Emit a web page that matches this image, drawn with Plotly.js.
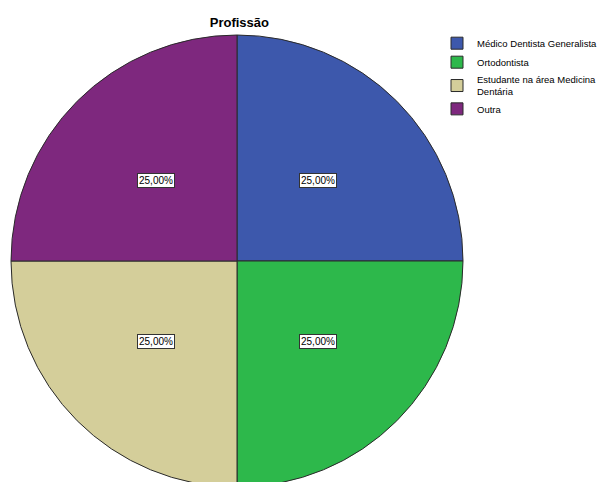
<!DOCTYPE html>
<html><head><meta charset="utf-8">
<script src="https://cdn.plot.ly/plotly-3.0.1.min.js"></script>
<style>html,body{margin:0;padding:0;overflow:hidden;background:#fff;width:606px;height:482px}</style>
</head><body><div id="chart" style="width:606px;height:490px"></div>
<script>
const categories = ["Médico Dentista Generalista", "Ortodontista", "Estudante na área Medicina<br>Dentária", "Outra"];
const values = [25, 25, 25, 25];
const colors = ["#3D58AC", "#2DB84B", "#D4CE9A", "#7E287E"];
const chartTitle = "Profissão";

const total = values.reduce((a, b) => a + b, 0);
const fmt = v => (v / total * 100).toFixed(2).replace('.', ',') + '%';

const W = 606, H = 490, m = {l: 11, r: 143, t: 35, b: 3, autoexpand: false};
let cum = 0;
const annotations = values.map(v => {
  const mid = (cum + v / 2) / total * 2 * Math.PI;
  cum += v;
  const rr = 0.253;
  return {
    xref: 'paper', yref: 'paper',
    x: 0.5 + rr * Math.sin(mid),
    y: 0.5 + rr * Math.cos(mid),
    xanchor: 'center', yanchor: 'middle',
    text: fmt(v), showarrow: false,
    font: {family: 'Liberation Sans, Arial, sans-serif', size: 10, color: '#000'},
    bgcolor: '#ffffff', bordercolor: '#333333', borderwidth: 1, borderpad: 1
  };
});

Plotly.newPlot('chart', [{
  type: 'pie',
  labels: categories,
  values: values,
  sort: false,
  direction: 'clockwise',
  rotation: 0,
  marker: {colors: colors, line: {color: '#2a2a2a', width: 1}},
  textinfo: 'none',
  hoverinfo: 'label+percent'
}], {
  width: W, height: H,
  margin: m,
  paper_bgcolor: '#fff',
  showlegend: true,
  title: {text: '<b>' + chartTitle + '</b>', x: 0.395, xanchor: 'center', y: 0.955, yanchor: 'middle',
          font: {family: 'Liberation Sans, Arial, sans-serif', size: 13, color: '#000'}},
  legend: {x: 0.9425, xanchor: 'left', y: 1.014, yanchor: 'top', traceorder: 'normal',
           font: {family: 'Liberation Sans, Arial, sans-serif', size: 9.5, color: '#000'},
           tracegroupgap: 0, itemwidth: 30, bgcolor: 'rgba(0,0,0,0)'},
  annotations: annotations
}, {displayModeBar: false, staticPlot: true});
</script></body></html>
